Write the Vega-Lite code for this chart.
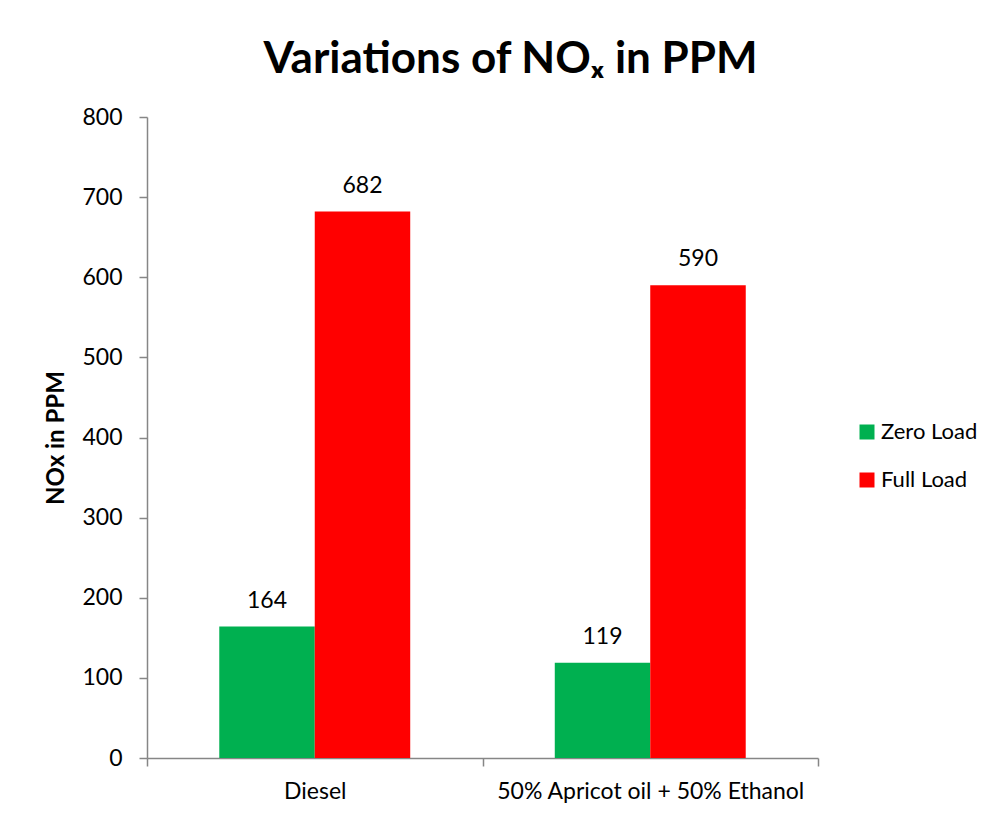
{
  "$schema": "https://vega.github.io/schema/vega-lite/v6.json",
  "width": 671,
  "height": 641,
  "autosize": {"type": "none"},
  "padding": {"left": 147, "top": 117, "right": 183, "bottom": 63},
  "background": "white",
  "title": {
    "text": "Variations of NOₓ in PPM",
    "font": "Lato",
    "fontSize": 44,
    "fontWeight": "bold",
    "color": "#000000",
    "anchor": "middle",
    "frame": "group",
    "dx": 28,
    "offset": 24
  },
  "data": {
    "values": [
      {"fuel": "Diesel", "load": "Zero Load", "nox": 164},
      {"fuel": "Diesel", "load": "Full Load", "nox": 682},
      {"fuel": "50% Apricot oil + 50% Ethanol", "load": "Zero Load", "nox": 119},
      {"fuel": "50% Apricot oil + 50% Ethanol", "load": "Full Load", "nox": 590}
    ]
  },
  "encoding": {
    "x": {
      "field": "fuel",
      "type": "nominal",
      "sort": ["Diesel", "50% Apricot oil + 50% Ethanol"],
      "scale": {"paddingInner": 0, "paddingOuter": 0},
      "axis": {
        "title": null,
        "labelAngle": 0,
        "labelLimit": 0,
        "labelFont": "Lato",
        "labelFontSize": 23,
        "labelColor": "#000000",
        "labelPadding": 14,
        "tickBand": "extent",
        "tickSize": 8,
        "tickColor": "#868686",
        "domainColor": "#868686",
        "domainWidth": 1.5,
        "tickWidth": 1.5
      }
    },
    "xOffset": {
      "field": "load",
      "type": "nominal",
      "sort": ["Zero Load", "Full Load"],
      "scale": {"paddingInner": 0, "paddingOuter": 0.757}
    },
    "y": {
      "field": "nox",
      "type": "quantitative",
      "scale": {"domain": [0, 800], "nice": false},
      "axis": {
        "values": [0, 100, 200, 300, 400, 500, 600, 700, 800],
        "grid": false,
        "title": "NOx in PPM",
        "titleFont": "Lato",
        "titleFontSize": 24,
        "titleFontWeight": "bold",
        "titleColor": "#000000",
        "titlePadding": 13,
        "labelFont": "Lato",
        "labelFontSize": 23,
        "labelColor": "#000000",
        "labelPadding": 17,
        "tickSize": 8,
        "tickColor": "#868686",
        "domainColor": "#868686",
        "domainWidth": 1.5,
        "tickWidth": 1.5
      }
    }
  },
  "layer": [
    {
      "mark": {"type": "bar"},
      "encoding": {
        "color": {
          "field": "load",
          "type": "nominal",
          "scale": {"domain": ["Zero Load", "Full Load"], "range": ["#00B050", "#FF0000"]},
          "legend": {
            "title": null,
            "orient": "none",
            "legendX": 709,
            "legendY": 304,
            "symbolType": "square",
            "symbolSize": 225,
            "symbolStrokeWidth": 0,
            "symbolOpacity": 1,
            "labelFont": "Lato",
            "labelFontSize": 22,
            "labelColor": "#000000",
            "labelOffset": 3,
            "rowPadding": 26
          }
        }
      }
    },
    {
      "mark": {"type": "text", "font": "Lato", "fontSize": 23, "baseline": "alphabetic", "dy": -19, "color": "#000000"},
      "encoding": {"text": {"field": "nox", "type": "quantitative"}}
    }
  ],
  "config": {"view": {"stroke": null}}
}
